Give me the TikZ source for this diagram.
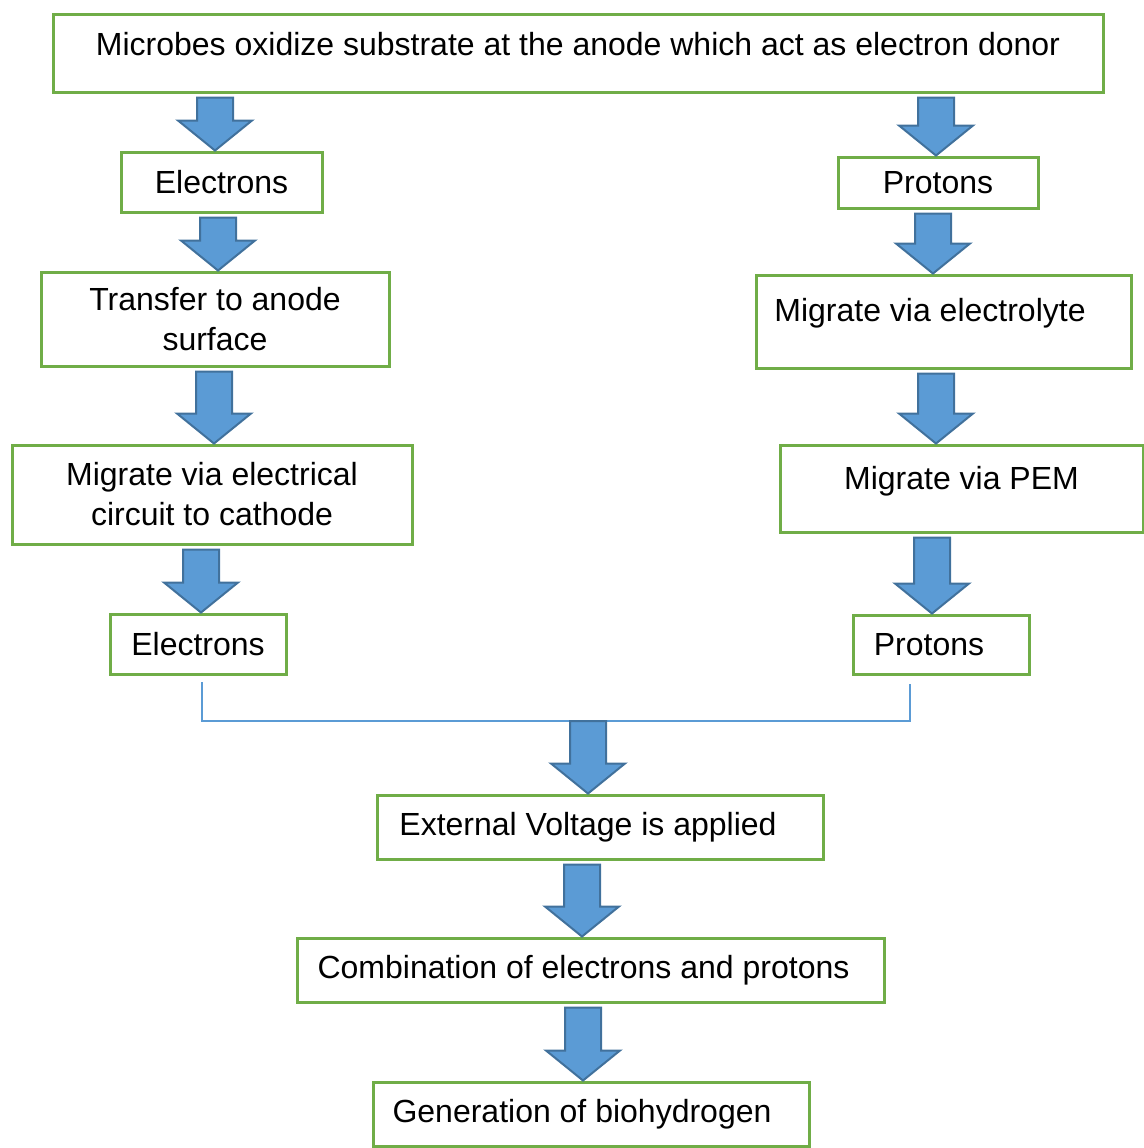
\documentclass[tikz,border=0pt]{standalone}
\usepackage{fontspec}
\setmainfont{Liberation Sans}
\usetikzlibrary{calc}
\definecolor{boxgreen}{HTML}{70AD47}
\definecolor{arrowblue}{HTML}{5B9BD5}
\definecolor{arrowedge}{HTML}{41719C}

\begin{document}
\begin{tikzpicture}[x=0.5pt,y=-0.5pt]
\tikzstyle{every node}+=[font=\fontsize{16}{20}\selectfont, inner sep=0pt]
\tikzstyle{box}=[draw=boxgreen, line width=1.5pt, align=center]
\tikzstyle{joinline}=[draw=arrowblue, line width=1pt]
\tikzstyle{blockarrow}=[draw=arrowedge, fill=arrowblue, line width=1pt, line join=miter,
  to path={let \p1=(\tikztostart), \p2=(\tikztotarget) in
    (\x1-9pt,\y1-2pt) -- (\x1+9pt,\y1-2pt) -- (\x1+9pt,\y2+15pt) -- (\x1+18.5pt,\y2+15pt)
    -- (\x1,\y2) -- (\x1-18.5pt,\y2+15pt) -- (\x1-9pt,\y2+15pt) -- cycle}]
\useasboundingbox (0,0) rectangle (1144,1148);
% top
\node[box, minimum width=525pt, minimum height=39pt, text height=11.5pt, text depth=9.5pt] (donor) at (578,53) {Microbes oxidize substrate at the anode which act as electron donor};
% electron side
\node[box, minimum width=100.5pt, minimum height=30pt] (elec1) at (221.5,182) {Electrons};
\node[box, minimum width=174pt, minimum height=47pt] (transfer) at (215,319) {Transfer to anode\\surface};
\node[box, minimum width=200pt, minimum height=49.5pt] (circuit) at (212,494.5) {Migrate via electrical\\circuit to cathode};
\node[box, minimum width=88pt, minimum height=30pt] (elec2) at (198,644) {Electrons};
% proton side
\node[box, minimum width=100pt, minimum height=25.5pt] (prot1) at (938,182.5) {Protons};
\node[box, minimum width=187.5pt, minimum height=46.5pt, text height=11.5pt, text depth=11.7pt] (electrolyte) at (943.5,321.5) {Migrate via electrolyte\hspace*{13.5pt}};
\node[box, minimum width=181.5pt, minimum height=43.5pt, text height=11.5pt, text depth=10.7pt] (pem) at (961.5,488.5) {Migrate via PEM};
\node[box, minimum width=88pt, minimum height=29.5pt] (prot2) at (941,644.5) {Protons\hspace*{12pt}};
% joint part
\node[box, minimum width=223pt, minimum height=32pt] (voltage) at (600,827) {External Voltage is applied\hspace*{12pt}};
\node[box, minimum width=293.5pt, minimum height=32pt] (combine) at (590.5,970) {Combination of electrons and protons\hspace*{7pt}};
\node[box, minimum width=218pt, minimum height=32pt] (hydrogen) at (591,1114) {Generation of biohydrogen\hspace*{9pt}};

\coordinate (jl) at (202,682);
\coordinate (jr) at (910,684);
\coordinate (jm) at (588,721);
\draw[joinline] (jl) |- (jm) -| (jr);

\draw[blockarrow] (donor.south -| 215,0) to (elec1.north -| 215,0);
\draw[blockarrow] (elec1.south -| 218,0) to (transfer.north -| 218,0);
\draw[blockarrow] (transfer.south -| 214,0) to (circuit.north -| 214,0);
\draw[blockarrow] (circuit.south -| 201,0) to (elec2.north -| 201,0);
\draw[blockarrow] (donor.south -| 936,0) to (prot1.north -| 936,0);
\draw[blockarrow] (prot1.south -| 933,0) to (electrolyte.north -| 933,0);
\draw[blockarrow] (electrolyte.south -| 936,0) to (pem.north -| 936,0);
\draw[blockarrow] (pem.south -| 932,0) to (prot2.north -| 932,0);
\draw[blockarrow] ([yshift=2pt]jm) to (voltage.north -| jm);
\draw[blockarrow] (voltage.south -| 582,0) to (combine.north -| 582,0);
\draw[blockarrow] (combine.south -| 583,0) to (hydrogen.north -| 583,0);
\end{tikzpicture}
\end{document}
